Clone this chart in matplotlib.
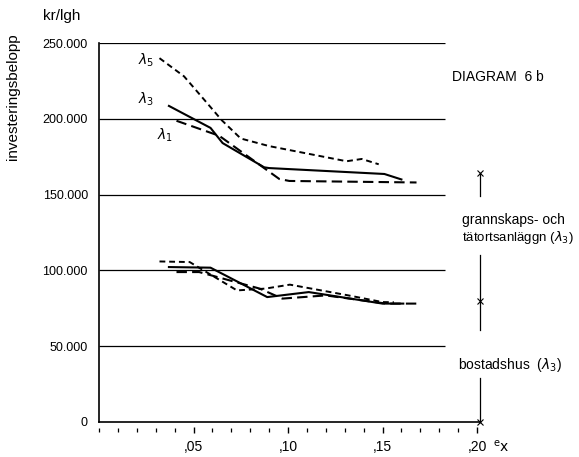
import numpy as np
import matplotlib.pyplot as plt
from matplotlib.ticker import MultipleLocator, FixedLocator

plt.rcParams['font.family'] = ['Liberation Sans', 'DejaVu Sans']

# e_x värden och investeringsbelopp (kr/lgh), övre grupp
l5_top_x = [0.032, 0.045, 0.054, 0.065, 0.075, 0.090, 0.131, 0.139, 0.148]
l5_top_y = [240000, 228000, 215000, 199000, 187000, 182000, 172000, 173500, 170000]
l3_top_x = [0.037, 0.059, 0.0654, 0.0874, 0.090, 0.151, 0.160]
l3_top_y = [208500, 194000, 184000, 168000, 167500, 163600, 160000]
l1_top_x = [0.041, 0.0636, 0.0954, 0.1007, 0.168]
l1_top_y = [198700, 188800, 160300, 159000, 158000]

# nedre grupp
l5_bot_x = [0.032, 0.048, 0.073, 0.088, 0.101, 0.132, 0.150, 0.156]
l5_bot_y = [105900, 105500, 86800, 88000, 90600, 83500, 79100, 79000]
l3_bot_x = [0.037, 0.059, 0.089, 0.111, 0.150, 0.161]
l3_bot_y = [102200, 101800, 82400, 85700, 78100, 78100]
l1_bot_x = [0.041, 0.053, 0.085, 0.097, 0.120, 0.152, 0.170]
l1_bot_y = [98900, 98900, 88000, 81400, 83500, 78100, 78100]

grid_levels = [50000, 100000, 150000, 200000, 250000]
y_ticks = [0, 50000, 100000, 150000, 200000, 250000]
y_labels = ['0', '50.000', '100.000', '150.000', '200.000', '250.000']
x_major = [0.05, 0.10, 0.15, 0.20]
x_labels = [',05', ',10', ',15', ',20']

# intervall på höger sida (streck med kryss)
range_x = 0.2015
ranges = [(149300, 164500), (60500, 109900), (0, 28900)]
cross_y = [164500, 79600, 0]

W, H = 579, 457
fig = plt.figure(figsize=(W / 100, H / 100), dpi=100)
ax = fig.add_axes([99 / W, 35 / H, 378 / W, 379 / H])

ax.set_xlim(0, 0.20)
ax.set_ylim(0, 250000)

ax.hlines(grid_levels, 0, 0.183, color='black', lw=0.9)
ax.plot([0, range_x], [0, 0], color='black', lw=1.2, clip_on=False)

ax.plot(l5_top_x, l5_top_y, color='black', lw=1.4, ls=(0, (3, 2)))
ax.plot(l3_top_x, l3_top_y, color='black', lw=1.5, ls='-')
ax.plot(l1_top_x, l1_top_y, color='black', lw=1.5, ls=(0, (5, 2.5)))
ax.plot(l5_bot_x, l5_bot_y, color='black', lw=1.4, ls=(0, (3, 2)))
ax.plot(l3_bot_x, l3_bot_y, color='black', lw=1.5, ls='-')
ax.plot(l1_bot_x, l1_bot_y, color='black', lw=1.5, ls=(0, (5, 2.5)))

for lo, hi in ranges:
    ax.plot([range_x, range_x], [lo, hi], color='black', lw=0.9, clip_on=False)
ax.plot([range_x] * 3, cross_y, ls='none', marker='x', ms=5, mew=0.8,
        color='black', clip_on=False)

for s in ['top', 'right']:
    ax.spines[s].set_visible(False)
ax.spines['left'].set_linewidth(1.2)
ax.spines['bottom'].set_visible(False)
ax.spines['bottom'].set_position(('outward', 5.8))

ax.xaxis.set_major_locator(FixedLocator(x_major))
ax.xaxis.set_minor_locator(MultipleLocator(0.01))
ax.set_xticks(x_major, x_labels)
ax.tick_params(axis='x', which='major', direction='inout', length=5,
               width=1.0, pad=5, labelsize=10)
ax.tick_params(axis='x', which='minor', direction='inout', length=2.5, width=0.9)
ax.set_yticks(y_ticks, y_labels)
ax.tick_params(axis='y', length=0, pad=8, labelsize=9)

def ftext(x, y, s, **kw):
    fig.text(x / W, 1 - y / H, s, **kw)

ftext(43, 16, 'kr/lgh', fontsize=11, va='center')
ftext(13, 97, 'investeringsbelopp', fontsize=11, rotation=90, va='center', ha='center')
ftext(452, 77, 'DIAGRAM  6 b', fontsize=10, va='center')
ftext(138, 60, r'$\lambda_5$', fontsize=10, va='center')
ftext(138, 99, r'$\lambda_3$', fontsize=10, va='center')
ftext(157, 135, r'$\lambda_1$', fontsize=10, va='center')
ftext(462, 220, 'grannskaps- och', fontsize=10, va='center')
ftext(462, 237, r'tätortsanläggn ($\lambda_3$)', fontsize=9.5, va='center')
ftext(458, 365, r'bostadshus  ($\lambda_3$)', fontsize=10, va='center')
ftext(493, 447, r'$^{\mathrm{e}}\mathrm{x}$', fontsize=10, va='center')

fig.savefig('out.png', dpi=100)
